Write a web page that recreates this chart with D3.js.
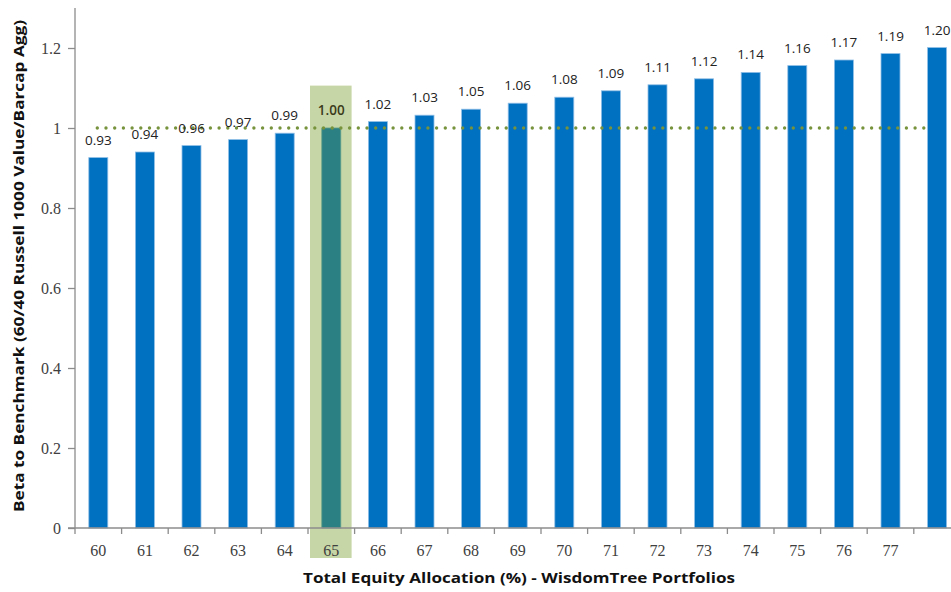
<!DOCTYPE html>
<html><head><meta charset="utf-8">
<script src="https://cdn.jsdelivr.net/npm/d3@7"></script>
<style>body{margin:0;background:#fff;}svg{display:block;}</style>
</head><body>
<svg id="c" width="951" height="592"></svg>
<script>
const categories = ["60","61","62","63","64","65","66","67","68","69","70","71","72","73","74","75","76","77","78"];
const betaValues = [0.926,0.940,0.956,0.971,0.987,1.000,1.016,1.032,1.047,1.062,1.077,1.093,1.108,1.123,1.139,1.156,1.170,1.186,1.201];
const yTicks = [0,0.2,0.4,0.6,0.8,1,1.2];
const xTickLabels = ["60","61","62","63","64","65","66","67","68","69","70","71","72","73","74","75","76","77",""];
const highlightCategory = "65";
const benchmarkLevel = 1;
const yTitle = "Beta to Benchmark (60/40 Russell 1000 Value/Barcap Agg)";
const xTitle = "Total Equity Allocation (%) - WisdomTree Portfolios";

const svg = d3.select("#c");
const x0 = 75, yBottom = 528;
const band = d3.scaleBand().domain(categories).range([x0, x0 + 46.6*19]).padding(0);
const y = d3.scaleLinear().domain([0, 1.3]).range([yBottom, 8]);

// highlight
svg.append("rect")
  .attr("x", band(highlightCategory) + 2).attr("width", band.bandwidth() - 5)
  .attr("y", y(1.106)).attr("height", 558 - y(1.106))
  .attr("fill", "#c7d6a6");

// bars
svg.selectAll("rect.bar").data(categories).enter().append("rect")
  .attr("class","bar")
  .attr("x", d => band(d) + band.bandwidth()/2 - 9.5)
  .attr("width", 19)
  .attr("y", (d,i) => y(betaValues[i]))
  .attr("height", (d,i) => yBottom - y(betaValues[i]))
  .attr("fill", d => d === highlightCategory ? "#2a8082" : "#0070c0")
  .attr("stroke", d => d === highlightCategory ? "#5f9f8a" : "#8fbfe6")
  .attr("stroke-width", 0.8);

// benchmark dotted line
svg.append("line")
  .attr("x1", band("60") + band.bandwidth()/2 - 1).attr("x2", band("78") + band.bandwidth()/2 - 6)
  .attr("y1", y(benchmarkLevel)).attr("y2", y(benchmarkLevel))
  .attr("stroke", "#77933c").attr("stroke-width", 3.4)
  .attr("stroke-linecap", "round").attr("stroke-dasharray", "0 8.7");

// value labels
const fmt = d3.format(".2f");
svg.selectAll("text.val").data(categories).enter().append("text")
  .attr("class","val")
  .attr("x", d => band(d) + band.bandwidth()/2)
  .attr("y", (d,i) => y(betaValues[i]) - 13)
  .attr("text-anchor","middle")
  .attr("font-family","'Open Sans', 'Liberation Sans', sans-serif")
  .attr("font-size", 13.5)
  .attr("font-weight", d => d === highlightCategory ? 600 : 400)
  .attr("fill", d => d === highlightCategory ? "#3a3a1a" : "#222")
  .text((d,i) => fmt(betaValues[i]));

// y axis
const gy = svg.append("g").attr("transform", `translate(${x0},0)`)
  .call(d3.axisLeft(y).tickValues(yTicks).tickSize(7).tickSizeOuter(0).tickFormat(d => d3.format("")(d)));
gy.select(".domain").attr("stroke","#8c8c8c").attr("stroke-width",1.3).attr("d", `M0,8V${yBottom}`);
gy.selectAll(".tick line").attr("stroke","#8c8c8c").attr("stroke-width",1.3);
gy.selectAll(".tick text").attr("font-family","'Liberation Serif', 'DejaVu Serif', serif")
  .attr("font-size",16).attr("fill","#404040").attr("x",-14).attr("dy","0.32em");

// x axis
const tickPos = d3.range(categories.length + 1).map(i => x0 + 46.6*i);
const gx = svg.append("g");
gx.append("line").attr("x1", x0 - 7).attr("x2", 951).attr("y1", yBottom).attr("y2", yBottom)
  .attr("stroke","#8c8c8c").attr("stroke-width",1.3);
gx.selectAll("line.t").data(tickPos).enter().append("line").attr("class","t")
  .attr("x1", d => d).attr("x2", d => d).attr("y1", yBottom).attr("y2", yBottom + 6)
  .attr("stroke","#8c8c8c").attr("stroke-width",1.3);
gx.selectAll("text").data(categories).enter().append("text")
  .attr("x", d => band(d) + band.bandwidth()/2)
  .attr("y", 556)
  .attr("text-anchor","middle")
  .attr("font-family","'Liberation Serif', 'DejaVu Serif', serif")
  .attr("font-size",16).attr("fill","#404040")
  .text((d,i) => xTickLabels[i]);

// titles
svg.append("text")
  .attr("transform","translate(24,266) rotate(-90)")
  .attr("text-anchor","middle")
  .attr("font-family","'Open Sans', 'Liberation Sans', sans-serif")
  .attr("font-weight",700).attr("font-size",14).attr("fill","#111")
  .attr("textLength", 492).attr("lengthAdjust","spacingAndGlyphs")
  .text(yTitle);
svg.append("text")
  .attr("x", 519).attr("y", 583)
  .attr("text-anchor","middle")
  .attr("font-family","'Open Sans', 'Liberation Sans', sans-serif")
  .attr("font-weight",700).attr("font-size",15).attr("fill","#111")
  .attr("textLength", 432).attr("lengthAdjust","spacingAndGlyphs")
  .text(xTitle);
</script>
</body></html>
